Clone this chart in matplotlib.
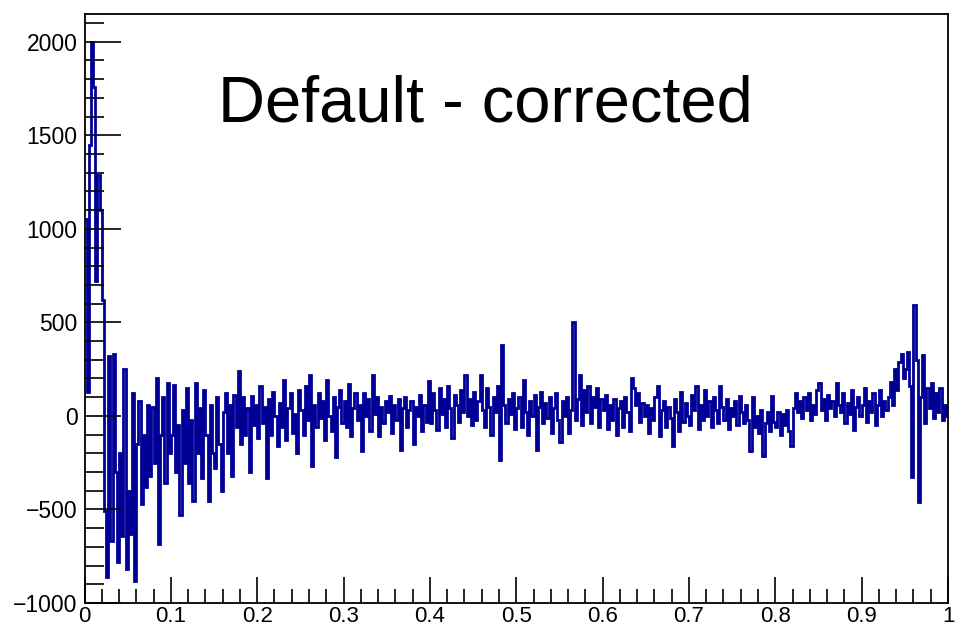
import numpy as np
import matplotlib
matplotlib.use("Agg")
import matplotlib.pyplot as plt
from matplotlib.ticker import MultipleLocator

plt.rcParams['font.family'] = ['Liberation Sans', 'DejaVu Sans']

title = "Default - corrected"
x_min, x_max, n_bins = 0.0, 1.0, 400

# bin contents, one list per 0.05 of x
seg_000 = [1050, 130, 1450, 2000, 1760, 720, 1290, 1100, 620, -510, -860, 320, -670, 330, -300, -780, -200, -640, 250, -820]
seg_005 = [-400, -630, 120, -885, -150, 80, -470, -100, -380, 60, -320, 50, -250, 205, -686, -100, 100, -360, 178, -200]
seg_010 = [-100, 167, -300, -50, -530, 30, -250, 150, -360, -20, -453, 178, -200, 40, -330, 140, -100, -453, 60, -200]
seg_015 = [-280, 100, -150, -400, 20, 124, -200, 60, -320, 110, -60, 238, -150, 100, -100, 40, -300, 108, -50, 60]
seg_020 = [-120, 162, -40, 50, -330, 90, -100, 130, 0, -160, 70, -60, 194, -130, 40, 120, -90, 10, -200, 140]
seg_025 = [30, -100, 160, -20, 221, -270, 60, -60, 120, -10, 80, -130, 190, 0, -80, 100, -220, 50, 140, -40]
seg_030 = [80, -60, 170, -110, 40, 120, -20, 60, -190, 124, 0, 90, -80, 216, 10, 100, -108, 50, -40, 80]
seg_035 = [20, 108, -90, 60, -20, 90, -180, 40, 100, -60, 30, 80, -150, 50, 0, 110, -80, 60, -30, 189]
seg_040 = [-40, 120, 30, -76, 150, 10, 90, -60, 160, 40, -120, 110, 60, -30, 140, 20, 216, 0, 90, -50]
seg_045 = [130, -20, 80, 216, 30, -60, 150, 50, -100, 100, 20, 160, -238, 378, 60, -40, 90, 10, 120, -70]
seg_050 = [40, 100, -60, 190, 20, -100, 80, 0, 110, -180, 50, 130, -40, 70, -10, 100, -90, 40, 120, -20]
seg_055 = [-140, 80, 0, 100, -90, 30, 502, -20, 90, 221, -50, 140, 20, 160, -40, 100, 50, 150, -60, 90]
seg_060 = [30, 110, -70, 60, -20, 90, -100, 40, 80, -60, 100, 20, -80, 205, 150, 60, 120, -30, 70, 0]
seg_065 = [60, -90, 40, -20, 100, 162, -110, 30, 80, -60, 50, -10, -162, 90, 20, -80, 130, -30, 70, 0]
seg_070 = [-50, 110, 30, 162, -70, 60, -20, 140, 0, 80, -60, 100, 30, -40, 162, 50, -20, 90, -70, 40]
seg_075 = [0, 80, -50, 108, 20, -40, 60, -20, -189, 100, -60, 0, -90, 30, -216, -40, 20, -80, 108, -30]
seg_080 = [-60, 20, -100, 10, -50, 30, -80, -162, 40, 120, 20, 80, -10, 100, 30, 124, -20, 60, 10, 140]
seg_085 = [178, 30, 90, -20, 110, 40, 80, 0, 178, 60, 20, 120, -40, 70, 10, 140, -76, 50, 100, 0]
seg_090 = [60, 151, -30, 80, 20, 120, -50, 60, 140, 0, 80, 30, 100, 180, 60, 250, 140, 286, 330, 200]
seg_095 = [250, 340, 160, -324, 594, 300, -459, 100, 324, -40, 150, 40, 178, -10, 120, 20, 150, -20, 60, 0]

values = np.array(seg_000 + seg_005 + seg_010 + seg_015 + seg_020 + seg_025 + seg_030
                  + seg_035 + seg_040 + seg_045 + seg_050 + seg_055 + seg_060 + seg_065
                  + seg_070 + seg_075 + seg_080 + seg_085 + seg_090 + seg_095, dtype=float)
edges = np.linspace(x_min, x_max, len(values) + 1)

W, H = 958, 630
fig = plt.figure(figsize=(W / 100, H / 100), dpi=100)
ax = fig.add_axes([84.5 / W, 1 - 603 / H, (948 - 84.5) / W, (603 - 14) / H])

ax.stairs(values, edges, color='#000096', linewidth=2.0, baseline=None)

ax.set_xlim(x_min, x_max)
ax.set_ylim(-1000, 2148)

ax.xaxis.set_major_locator(MultipleLocator(0.1))
ax.xaxis.set_minor_locator(MultipleLocator(0.02))
ax.yaxis.set_major_locator(MultipleLocator(500))
ax.yaxis.set_minor_locator(MultipleLocator(100))

ax.xaxis.set_major_formatter(matplotlib.ticker.FuncFormatter(lambda v, p: ('%g' % round(v, 3))))
ax.yaxis.set_major_formatter(matplotlib.ticker.FuncFormatter(lambda v, p: ('%d' % v).replace('-', '\u2212')))

ax.tick_params(axis='x', which='major', direction='in', length=19, width=1.2, pad=2, labelsize=16)
ax.tick_params(axis='x', which='minor', direction='in', length=10, width=1.2)
ax.tick_params(axis='y', which='major', direction='in', length=26, width=1.2, pad=5, labelsize=16.5)
ax.tick_params(axis='y', which='minor', direction='in', length=14, width=1.2)
ax.tick_params(top=False, right=False, which='both')

for s in ax.spines.values():
    s.set_linewidth(1.3)
    s.set_color('black')

fig.text(485 / W, 1 - 122 / H, title, ha='center', va='baseline', fontsize=46.8, color='black')

fig.savefig('out.png', dpi=100, facecolor='white')
